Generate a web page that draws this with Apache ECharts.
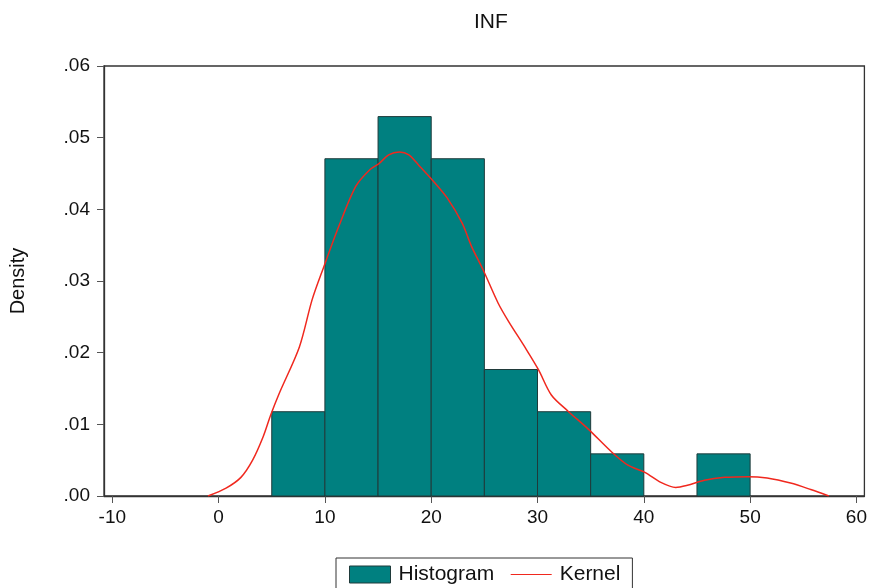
<!DOCTYPE html>
<html>
<head>
<meta charset="utf-8">
<script src="https://cdn.jsdelivr.net/npm/echarts@6/dist/echarts.min.js"></script>
<style>
html,body{margin:0;padding:0;background:#fff;}
#chart{width:870px;height:588px;}
</style>
</head>
<body>
<div id="chart"></div>
<script>
// Histogram bins (INF), density per bin
var binStart = [5, 10, 15, 20, 25, 30, 35, 40, 45];
var binEnd   = [10, 15, 20, 25, 30, 35, 40, 45, 50];
var density  = [0.01176, 0.04706, 0.05294, 0.04706, 0.01765, 0.01176, 0.00588, 0, 0.00588];

// Kernel density curve
var kernelX = [-1.0, 0.7, 2.1, 3.2, 4.2, 4.9, 5.7, 7.6, 8.8, 9.9, 11.3, 12.9, 14.2, 15.1, 16.0, 17.0, 17.9, 18.8, 20.1, 21.5, 22.9, 23.8, 24.9, 26.3, 27.3, 28.8, 30.1, 31.3, 32.9, 34.8, 37.0, 38.5, 40.1, 41.6, 43.0, 44.1, 45.7, 47.6, 49.8, 51.6, 53.8, 55.7, 57.4];
var kernelY = [0.0000, 0.0011, 0.0026, 0.0050, 0.0083, 0.0113, 0.0143, 0.0208, 0.0274, 0.0320, 0.0376, 0.0432, 0.0455, 0.0464, 0.0476, 0.0480, 0.0476, 0.0462, 0.0441, 0.0416, 0.0381, 0.0348, 0.0315, 0.0269, 0.0243, 0.0208, 0.0176, 0.0141, 0.0118, 0.0093, 0.0061, 0.0043, 0.0033, 0.0019, 0.0012, 0.0015, 0.0022, 0.0026, 0.0027, 0.0025, 0.0018, 0.0009, 0.0000];

var xTicks = [-10, 0, 10, 20, 30, 40, 50, 60];
var yTicks = [0, 0.01, 0.02, 0.03, 0.04, 0.05, 0.06];

var histData = binStart.map(function (s, i) { return [s, binEnd[i], density[i]]; });
var kernelData = kernelX.map(function (x, i) { return [x, kernelY[i]]; });

var FONT = '"Liberation Sans", Arial, sans-serif';
var chart = echarts.init(document.getElementById('chart'));
chart.setOption({
  animation: false,
  backgroundColor: '#ffffff',
  title: {
    text: 'INF',
    left: 469, top: 7,
    textStyle: { fontFamily: FONT, fontSize: 21, fontWeight: 'normal', color: '#111' }
  },
  grid: {
    left: 104, right: 2, top: 66, bottom: 92,
    show: true, borderColor: '#333', borderWidth: 1.3, backgroundColor: '#fff'
  },
  legend: {
    left: 336, top: 558,
    padding: [6, 12, 8, 13],
    itemGap: 16,
    itemWidth: 41, itemHeight: 17,
    borderColor: '#333', borderWidth: 1,
    textStyle: { fontFamily: FONT, fontSize: 21, color: '#111', padding: [0, 0, 0, 3] },
    data: [
      { name: 'Histogram', icon: 'rect', itemStyle: { color: '#008080', borderColor: '#1f3a3a', borderWidth: 1 } },
      { name: 'Kernel', itemStyle: { color: 'rgba(0,0,0,0)', borderColor: 'rgba(0,0,0,0)', borderWidth: 0, opacity: 0 },
        lineStyle: { color: '#f0281e', width: 1 } }
    ]
  },
  xAxis: {
    type: 'value',
    min: -10.78, max: 60.75,
    axisLine: { show: true, onZero: false, lineStyle: { color: '#333', width: 1.3 } },
    axisTick: { show: true, customValues: xTicks, length: 7, lineStyle: { color: '#555' } },
    axisLabel: { customValues: xTicks, margin: 12, fontFamily: FONT, fontSize: 19, color: '#111' },
    splitLine: { show: false }
  },
  yAxis: {
    type: 'value',
    min: 0, max: 0.06, interval: 0.01,
    name: 'Density', nameLocation: 'middle', nameGap: 76, nameRotate: 90,
    nameTextStyle: { fontFamily: FONT, fontSize: 20, color: '#111' },
    axisLine: { show: true, onZero: false, lineStyle: { color: '#333', width: 1.3 } },
    axisTick: { show: true, length: 7, lineStyle: { color: '#555' } },
    axisLabel: {
      margin: 14, fontFamily: FONT, fontSize: 19, color: '#111',
      formatter: function (v) { return v.toFixed(2).replace(/^0/, ''); }
    },
    splitLine: { show: false }
  },
  series: [
    {
      name: 'Histogram',
      type: 'custom',
      itemStyle: { color: '#008080', borderColor: '#1f3a3a', borderWidth: 1 },
      encode: { x: [0, 1], y: 2 },
      data: histData,
      renderItem: function (params, api) {
        var h = api.value(2);
        if (!h) return null;
        var p1 = api.coord([api.value(0), h]);
        var p2 = api.coord([api.value(1), 0]);
        return {
          type: 'rect',
          shape: { x: p1[0], y: p1[1], width: p2[0] - p1[0], height: p2[1] - p1[1] },
          style: { fill: '#008080', stroke: '#1f3a3a', lineWidth: 1 }
        };
      },
      z: 2
    },
    {
      name: 'Kernel',
      type: 'line',
      data: kernelData,
      symbol: 'none',
      smooth: 0.3,
      lineStyle: { color: '#f0281e', width: 1.5 },
      itemStyle: { color: '#f0281e' },
      z: 3
    }
  ]
});
</script>
</body>
</html>
